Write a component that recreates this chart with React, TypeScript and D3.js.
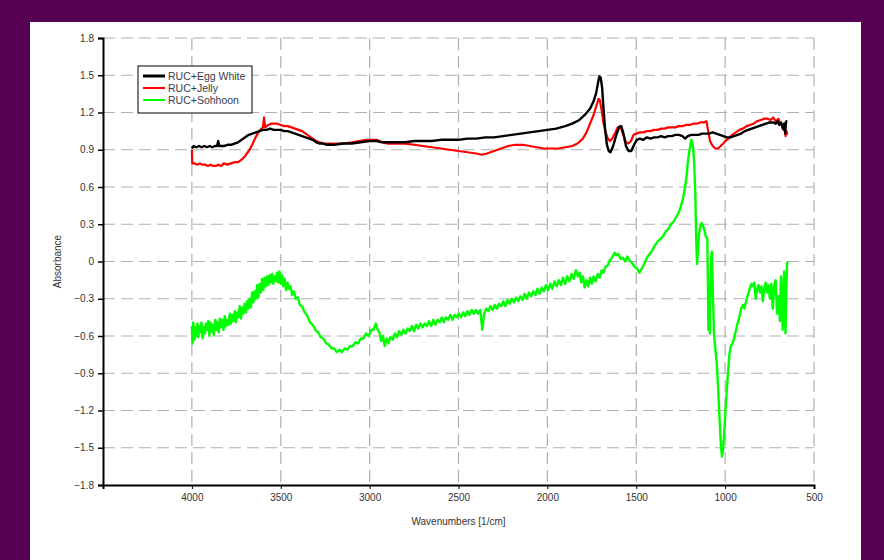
import React, { useEffect, useRef } from 'react';
import * as d3 from 'd3';

type Pt = [number, number];

// wavenumber [1/cm], absorbance
const eggWhite: Pt[] = [
    [4000, 0.91], [3990, 0.93], [3975, 0.92], [3960, 0.93], [3945, 0.92], [3930, 0.93], [3915, 0.92], [3900, 0.93],
    [3885, 0.92], [3870, 0.93], [3858, 0.93], [3852, 0.97], [3846, 0.93], [3820, 0.93], [3800, 0.94], [3780, 0.94],
    [3760, 0.95], [3740, 0.96], [3720, 0.98], [3700, 1.00], [3680, 1.02], [3660, 1.03], [3640, 1.04], [3620, 1.05],
    [3600, 1.06], [3580, 1.06], [3560, 1.07], [3540, 1.06], [3520, 1.06], [3500, 1.06], [3480, 1.05], [3460, 1.05],
    [3440, 1.04], [3420, 1.03], [3400, 1.02], [3380, 1.01], [3360, 1.00], [3340, 0.99], [3320, 0.98], [3300, 0.96],
    [3280, 0.95], [3260, 0.95], [3240, 0.94], [3220, 0.94], [3200, 0.94], [3150, 0.95], [3100, 0.95], [3050, 0.96],
    [3000, 0.97], [2960, 0.97], [2930, 0.96], [2900, 0.96], [2850, 0.96], [2800, 0.96], [2750, 0.97], [2700, 0.97],
    [2650, 0.97], [2600, 0.98], [2550, 0.98], [2500, 0.98], [2450, 0.99], [2400, 0.99], [2350, 1.00], [2300, 1.00],
    [2250, 1.01], [2200, 1.02], [2150, 1.03], [2100, 1.04], [2050, 1.05], [2000, 1.06], [1950, 1.07], [1900, 1.09],
    [1860, 1.11], [1820, 1.14], [1790, 1.18], [1760, 1.23], [1740, 1.29], [1725, 1.36], [1715, 1.44], [1708, 1.49],
    [1700, 1.48], [1692, 1.40], [1685, 1.25], [1675, 1.06], [1665, 0.94], [1655, 0.89], [1645, 0.88], [1630, 0.93],
    [1612, 1.02], [1597, 1.08], [1584, 1.09], [1572, 1.03], [1558, 0.93], [1543, 0.89], [1528, 0.89], [1512, 0.94],
    [1497, 0.98], [1480, 0.99], [1460, 0.98], [1440, 1.00], [1420, 0.99], [1400, 1.00], [1380, 1.00], [1360, 1.01],
    [1340, 1.00], [1320, 1.01], [1300, 1.01], [1280, 1.02], [1260, 1.02], [1240, 1.01], [1225, 0.99], [1210, 1.01],
    [1190, 1.02], [1170, 1.02], [1150, 1.02], [1130, 1.03], [1110, 1.03], [1090, 1.03], [1070, 1.04], [1050, 1.03],
    [1030, 1.02], [1010, 1.01], [990, 1.00], [970, 1.00], [950, 1.01], [930, 1.02], [910, 1.03], [890, 1.05],
    [870, 1.06], [850, 1.07], [830, 1.08], [810, 1.09], [790, 1.10], [770, 1.11], [750, 1.12], [730, 1.12],
    [715, 1.11], [705, 1.13], [695, 1.10], [685, 1.12], [675, 1.07], [668, 1.11], [662, 1.03], [658, 1.12],
    [654, 1.13], [650, 1.13],
];

const jelly: Pt[] = [
    [4000, 0.90], [3998, 0.79], [3985, 0.79], [3970, 0.78], [3955, 0.79], [3940, 0.78], [3925, 0.78], [3910, 0.77],
    [3895, 0.78], [3880, 0.77], [3865, 0.77], [3850, 0.78], [3835, 0.77], [3820, 0.79], [3800, 0.78], [3780, 0.79],
    [3760, 0.80], [3740, 0.80], [3720, 0.82], [3700, 0.85], [3680, 0.89], [3660, 0.94], [3645, 0.99], [3630, 1.03],
    [3615, 1.06], [3600, 1.08], [3594, 1.16], [3588, 1.08], [3570, 1.10], [3555, 1.11], [3540, 1.11], [3520, 1.11],
    [3500, 1.10], [3480, 1.09], [3460, 1.09], [3440, 1.08], [3420, 1.07], [3400, 1.06], [3380, 1.05], [3360, 1.03],
    [3340, 1.01], [3320, 0.99], [3300, 0.97], [3280, 0.96], [3260, 0.95], [3240, 0.95], [3220, 0.95], [3200, 0.95],
    [3150, 0.95], [3100, 0.96], [3060, 0.97], [3020, 0.98], [2990, 0.98], [2960, 0.98], [2930, 0.96], [2900, 0.95],
    [2850, 0.95], [2800, 0.95], [2750, 0.94], [2700, 0.93], [2650, 0.92], [2600, 0.91], [2550, 0.90], [2500, 0.89],
    [2450, 0.88], [2400, 0.87], [2370, 0.86], [2340, 0.87], [2300, 0.89], [2260, 0.91], [2220, 0.93], [2180, 0.94],
    [2140, 0.94], [2100, 0.93], [2060, 0.92], [2020, 0.91], [1980, 0.91], [1940, 0.91], [1900, 0.92], [1860, 0.93],
    [1830, 0.95], [1800, 0.99], [1780, 1.04], [1760, 1.11], [1740, 1.18], [1725, 1.25], [1712, 1.31], [1705, 1.30],
    [1695, 1.22], [1685, 1.12], [1672, 1.04], [1660, 0.99], [1648, 0.97], [1635, 0.99], [1620, 1.03], [1605, 1.08],
    [1592, 1.09], [1580, 1.05], [1568, 1.00], [1558, 0.96], [1545, 0.95], [1530, 0.97], [1515, 1.02], [1500, 1.03],
    [1480, 1.04], [1460, 1.04], [1440, 1.05], [1420, 1.05], [1400, 1.06], [1380, 1.06], [1360, 1.07], [1340, 1.07],
    [1320, 1.08], [1300, 1.08], [1280, 1.08], [1260, 1.09], [1240, 1.09], [1220, 1.10], [1200, 1.10], [1180, 1.11],
    [1160, 1.11], [1140, 1.12], [1120, 1.12], [1105, 1.13], [1095, 1.05], [1085, 0.97], [1070, 0.93], [1055, 0.91],
    [1040, 0.91], [1025, 0.93], [1010, 0.95], [1000, 0.97], [980, 0.99], [960, 1.02], [940, 1.04], [920, 1.06],
    [900, 1.07], [880, 1.09], [860, 1.10], [840, 1.11], [820, 1.13], [800, 1.14], [780, 1.15], [760, 1.15],
    [745, 1.14], [730, 1.16], [715, 1.13], [700, 1.15], [690, 1.11], [680, 1.10], [672, 1.06], [665, 1.08],
    [660, 1.01], [655, 1.05], [650, 1.02],
];

const sohhoon: Pt[] = [
    [4000, -0.52], [3997, -0.66], [3992, -0.49], [3986, -0.63], [3981, -0.53], [3975, -0.60], [3969, -0.50], [3964, -0.61],
    [3957, -0.52], [3951, -0.57], [3946, -0.49], [3940, -0.62], [3934, -0.53], [3927, -0.58], [3921, -0.50], [3915, -0.55],
    [3909, -0.48], [3902, -0.60], [3896, -0.49], [3889, -0.56], [3883, -0.51], [3876, -0.59], [3869, -0.47], [3862, -0.55],
    [3856, -0.49], [3849, -0.57], [3842, -0.46], [3836, -0.53], [3829, -0.47], [3822, -0.55], [3815, -0.44], [3808, -0.52],
    [3801, -0.47], [3794, -0.51], [3787, -0.42], [3780, -0.50], [3773, -0.43], [3766, -0.48], [3759, -0.40], [3752, -0.49],
    [3745, -0.41], [3738, -0.45], [3731, -0.36], [3724, -0.46], [3717, -0.37], [3710, -0.42], [3703, -0.34], [3696, -0.41],
    [3689, -0.32], [3682, -0.38], [3675, -0.30], [3668, -0.37], [3661, -0.25], [3654, -0.33], [3647, -0.24], [3640, -0.30],
    [3633, -0.19], [3626, -0.29], [3619, -0.18], [3612, -0.25], [3605, -0.14], [3598, -0.23], [3591, -0.13], [3584, -0.20],
    [3577, -0.12], [3570, -0.19], [3563, -0.11], [3556, -0.17], [3549, -0.10], [3542, -0.18], [3535, -0.12], [3528, -0.16],
    [3521, -0.09], [3514, -0.17], [3507, -0.08], [3500, -0.18], [3493, -0.11], [3486, -0.20], [3478, -0.14], [3470, -0.23],
    [3462, -0.17], [3454, -0.22], [3445, -0.20], [3436, -0.27], [3426, -0.24], [3416, -0.30], [3404, -0.29], [3392, -0.35],
    [3380, -0.36], [3365, -0.41], [3350, -0.44], [3335, -0.49], [3320, -0.51], [3305, -0.55], [3290, -0.57], [3275, -0.61],
    [3260, -0.62], [3245, -0.66], [3230, -0.67], [3215, -0.70], [3200, -0.70], [3185, -0.73], [3170, -0.71], [3155, -0.73],
    [3140, -0.70], [3125, -0.71], [3110, -0.68], [3095, -0.68], [3080, -0.65], [3065, -0.66], [3050, -0.62], [3035, -0.62],
    [3020, -0.58], [3005, -0.60], [2990, -0.55], [2978, -0.55], [2965, -0.50], [2955, -0.55], [2945, -0.57], [2935, -0.64],
    [2925, -0.60], [2915, -0.68], [2905, -0.62], [2895, -0.66], [2885, -0.61], [2870, -0.63], [2858, -0.58], [2846, -0.61],
    [2834, -0.56], [2822, -0.59], [2810, -0.55], [2798, -0.58], [2786, -0.54], [2774, -0.56], [2762, -0.52], [2750, -0.56],
    [2738, -0.51], [2726, -0.54], [2714, -0.50], [2702, -0.53], [2690, -0.50], [2678, -0.52], [2666, -0.48], [2654, -0.52],
    [2642, -0.47], [2630, -0.51], [2618, -0.47], [2606, -0.49], [2594, -0.45], [2582, -0.49], [2570, -0.45], [2558, -0.47],
    [2546, -0.43], [2534, -0.47], [2522, -0.43], [2510, -0.45], [2498, -0.42], [2486, -0.45], [2474, -0.41], [2462, -0.44],
    [2450, -0.40], [2438, -0.43], [2426, -0.39], [2414, -0.42], [2402, -0.39], [2390, -0.42], [2378, -0.39], [2366, -0.55],
    [2356, -0.42], [2344, -0.38], [2332, -0.40], [2320, -0.36], [2308, -0.39], [2296, -0.35], [2284, -0.38], [2272, -0.34],
    [2260, -0.36], [2248, -0.32], [2236, -0.36], [2224, -0.31], [2212, -0.34], [2200, -0.30], [2188, -0.33], [2176, -0.29],
    [2164, -0.32], [2152, -0.28], [2140, -0.31], [2128, -0.26], [2116, -0.30], [2104, -0.25], [2092, -0.28], [2080, -0.24],
    [2068, -0.27], [2056, -0.22], [2044, -0.26], [2032, -0.21], [2020, -0.24], [2008, -0.19], [1996, -0.23], [1984, -0.18],
    [1972, -0.22], [1960, -0.16], [1948, -0.20], [1936, -0.15], [1924, -0.19], [1912, -0.13], [1900, -0.18], [1888, -0.12],
    [1876, -0.16], [1864, -0.10], [1852, -0.14], [1840, -0.07], [1828, -0.12], [1818, -0.09], [1810, -0.17], [1800, -0.12],
    [1790, -0.21], [1780, -0.15], [1770, -0.20], [1760, -0.13], [1750, -0.18], [1740, -0.12], [1728, -0.16], [1716, -0.10],
    [1705, -0.13], [1695, -0.07], [1685, -0.09], [1672, -0.04], [1660, -0.03], [1648, 0.01], [1636, 0.03], [1622, 0.07],
    [1612, 0.05], [1600, 0.06], [1588, 0.02], [1575, 0.03], [1562, 0.00], [1550, 0.04], [1538, 0.01], [1525, -0.01],
    [1510, -0.04], [1495, -0.06], [1482, -0.09], [1470, -0.06], [1455, -0.02], [1440, 0.03], [1425, 0.06], [1410, 0.09],
    [1395, 0.13], [1380, 0.16], [1365, 0.18], [1350, 0.20], [1335, 0.24], [1320, 0.26], [1305, 0.30], [1290, 0.32],
    [1275, 0.36], [1262, 0.39], [1250, 0.44], [1238, 0.50], [1228, 0.58], [1218, 0.67], [1210, 0.80], [1200, 0.90],
    [1190, 0.98], [1182, 0.94], [1175, 0.82], [1168, 0.56], [1163, 0.20], [1158, -0.02], [1152, 0.10], [1147, 0.22],
    [1140, 0.28], [1133, 0.31], [1126, 0.29], [1118, 0.26], [1108, 0.20], [1100, 0.18], [1094, -0.55], [1090, -0.20],
    [1086, -0.58], [1080, 0.02], [1074, 0.08], [1068, -0.30], [1062, -0.60], [1055, -0.70], [1047, -0.82], [1040, -1.00],
    [1032, -1.25], [1025, -1.45], [1018, -1.57], [1012, -1.52], [1005, -1.38], [998, -1.20], [990, -1.02], [983, -0.88],
    [976, -0.75], [968, -0.68], [960, -0.67], [950, -0.62], [940, -0.56], [930, -0.50], [920, -0.45], [910, -0.38],
    [900, -0.35], [892, -0.38], [884, -0.33], [876, -0.29], [868, -0.25], [860, -0.21], [852, -0.18], [844, -0.20],
    [836, -0.17], [828, -0.30], [820, -0.22], [812, -0.19], [804, -0.25], [796, -0.20], [788, -0.32], [780, -0.22],
    [772, -0.17], [764, -0.25], [756, -0.19], [748, -0.30], [740, -0.18], [732, -0.38], [724, -0.20], [716, -0.15],
    [708, -0.42], [700, -0.28], [692, -0.48], [686, -0.12], [680, -0.40], [676, -0.55], [672, -0.20], [668, -0.08],
    [664, -0.45], [660, -0.58], [656, -0.22], [652, -0.03], [650, 0.00],
];

const xTicks = [4000, 3500, 3000, 2500, 2000, 1500, 1000, 500];
const yTicks = [1.8, 1.5, 1.2, 0.9, 0.6, 0.3, 0, -0.3, -0.6, -0.9, -1.2, -1.5, -1.8];

const seriesList = [
    { name: 'RUC+Egg White', data: eggWhite, color: '#000000', width: 2.4, legendWidth: 3 },
    { name: 'RUC+Jelly', data: jelly, color: '#ff0000', width: 2.2, legendWidth: 2 },
    { name: 'RUC+Sohhoon', data: sohhoon, color: '#00ff00', width: 2.4, legendWidth: 2 },
];

export default function App() {
    const svgRef = useRef<SVGSVGElement>(null);

    useEffect(() => {
        if (!svgRef.current) return;
        const svg = d3.select(svgRef.current);
        svg.selectAll('*').remove();

        const W = 884, H = 560;
        const margin = { top: 38, right: 70, left: 103, bottom: 75 };
        const width = W - margin.left - margin.right;
        const height = H - margin.top - margin.bottom;
        const font = 'Arial, "Liberation Sans", sans-serif';

        // background + white panel
        svg.append('rect').attr('width', W).attr('height', H).attr('fill', '#560052');
        svg.append('rect').attr('x', 30).attr('y', 22).attr('width', 831).attr('height', H - 22).attr('fill', '#ffffff');

        const g = svg.append('g').attr('transform', `translate(${margin.left},${margin.top})`);

        const x = d3.scaleLinear().domain([4500, 500]).range([0, width]);
        const y = d3.scaleLinear().domain([-1.8, 1.8]).range([height, 0]);

        // grid
        g.append('g')
            .selectAll('line')
            .data(yTicks.filter(d => d !== -1.8))
            .join('line')
            .attr('x1', 0).attr('x2', width)
            .attr('y1', d => y(d)).attr('y2', d => y(d))
            .attr('stroke', '#b0b0b0').attr('stroke-width', 1.2)
            .attr('stroke-dasharray', '12,6');
        g.append('g')
            .selectAll('line')
            .data(xTicks)
            .join('line')
            .attr('x1', d => x(d)).attr('x2', d => x(d))
            .attr('y1', 0).attr('y2', height)
            .attr('stroke', '#b0b0b0').attr('stroke-width', 1.2)
            .attr('stroke-dasharray', '12,6');

        // curves
        svg.append('defs').append('clipPath').attr('id', 'plotclip')
            .append('rect').attr('width', width).attr('height', height);
        const line = d3.line<Pt>().x(d => x(d[0])).y(d => y(d[1]));
        const curves = g.append('g').attr('clip-path', 'url(#plotclip)');
        // green first so black/red sit on top
        [seriesList[2], seriesList[1], seriesList[0]].forEach(s => {
            curves.append('path')
                .datum(s.data)
                .attr('fill', 'none')
                .attr('stroke', s.color)
                .attr('stroke-width', s.width)
                .attr('stroke-linejoin', 'round')
                .attr('d', line);
        });

        // axes
        const yAxis = g.append('g')
            .call(d3.axisLeft(y).tickValues(yTicks).tickSize(5).tickFormat(d => d3.format('')(+d)));
        yAxis.select('.domain').attr('stroke', '#000').attr('stroke-width', 2);
        yAxis.selectAll('.tick line').attr('stroke', '#000').attr('stroke-width', 1.5);
        yAxis.selectAll('text').attr('font-family', font).attr('font-size', 10).attr('fill', '#333').attr('dx', '-1');

        const xAxis = g.append('g')
            .attr('transform', `translate(0,${height})`)
            .call(d3.axisBottom(x).tickValues(xTicks).tickSize(4).tickFormat(d => String(d)));
        xAxis.select('.domain').attr('stroke', '#000').attr('stroke-width', 2);
        xAxis.selectAll('.tick line').attr('stroke', '#000').attr('stroke-width', 1);
        xAxis.selectAll('text').attr('font-family', font).attr('font-size', 10).attr('fill', '#333').attr('dy', '0.9em');

        // axis titles
        g.append('text')
            .attr('x', width / 2).attr('y', height + 40)
            .attr('text-anchor', 'middle')
            .attr('font-family', font).attr('font-size', 10).attr('fill', '#333')
            .text('Wavenumbers [1/cm]');
        g.append('text')
            .attr('transform', `translate(${-42},${height / 2}) rotate(-90)`)
            .attr('text-anchor', 'middle')
            .attr('font-family', font).attr('font-size', 10).attr('fill', '#333')
            .text('Absorbance');

        // legend
        const lg = svg.append('g').attr('transform', 'translate(138,66)');
        lg.append('rect').attr('width', 114).attr('height', 47)
            .attr('fill', '#fff').attr('stroke', '#000').attr('stroke-width', 1);
        seriesList.forEach((s, i) => {
            const row = lg.append('g').attr('transform', `translate(0,${10 + i * 12})`);
            row.append('line').attr('x1', 5).attr('x2', 27).attr('y1', 0).attr('y2', 0)
                .attr('stroke', s.color).attr('stroke-width', s.legendWidth);
            row.append('text').attr('x', 30).attr('y', 0).attr('dy', '0.35em')
                .attr('font-family', font).attr('font-size', 10.5).attr('fill', '#3a3a4a')
                .text(s.name);
        });
    }, []);

    return (
        <div style={{ position: 'absolute', left: 0, top: 0, width: 884, height: 560 }}>
            <svg ref={svgRef} width={884} height={560} style={{ display: 'block' }} />
        </div>
    );
}
